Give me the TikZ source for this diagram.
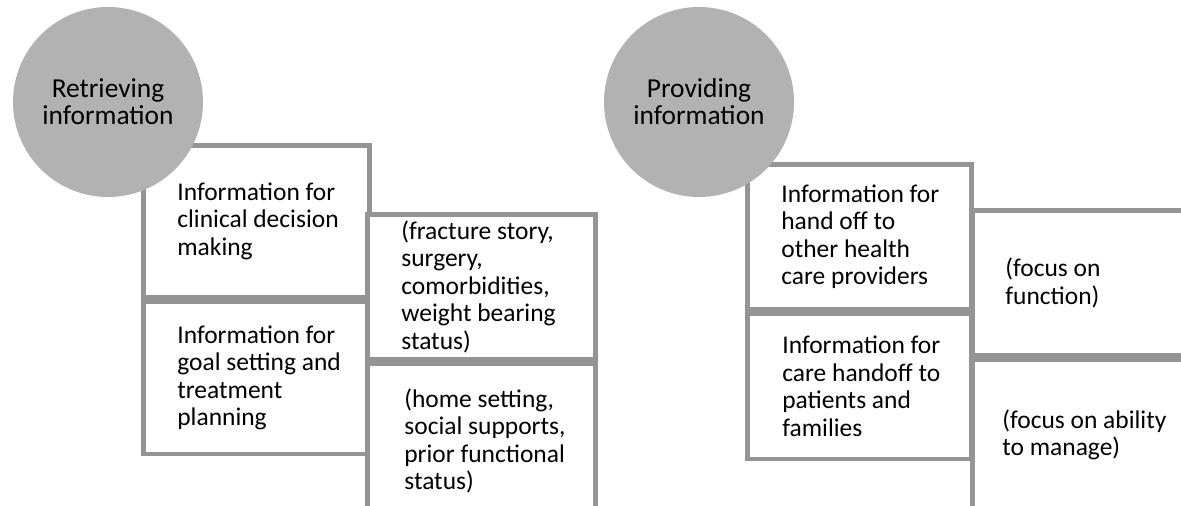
\documentclass[tikz,border=0pt]{standalone}
\usepackage{fontspec}
\setmainfont{Carlito}
\usepackage{xcolor}
\usepackage{tikz}
\usetikzlibrary{positioning}
\definecolor{bordo}{gray}{0.58}
\definecolor{sfondo}{gray}{0.70}
\tikzset{
  cerchio/.style={circle,fill=sfondo,minimum size=3.8cm,inner sep=0pt,align=center,
    font=\fontsize{15.6pt}{15.4pt}\selectfont},
  riquadro/.style={draw=bordo,line width=0.09cm,fill=white,inner sep=0pt},
  testo/.style={align=left,inner sep=0pt,font=\fontsize{14.5pt}{15.65pt}\selectfont}
}

\begin{document}
\begin{tikzpicture}
\clip (0,0) rectangle (23.62,-10.10);
\fill[white] (0,0) rectangle (23.62,-10.10);

\node[riquadro,anchor=north west,minimum width=4.52cm,minimum height=3.04cm] (clinica) at (2.82,-2.86) {};
\node[riquadro,below=0cm of clinica,minimum width=4.52cm,minimum height=3.04cm] (obiettivi) {};
\node[riquadro,anchor=north west,minimum width=4.56cm,minimum height=2.90cm] (frattura) at (7.30,-4.24) {};
\node[riquadro,below=0cm of frattura,minimum width=4.56cm,minimum height=3.08cm] (casa) {};

\node[riquadro,anchor=north west,minimum width=4.48cm,minimum height=2.90cm] (consegna) at (14.90,-3.24) {};
\node[riquadro,below=0cm of consegna,minimum width=4.48cm,minimum height=2.90cm] (famiglie) {};
\node[riquadro,anchor=north west,minimum width=4.80cm,minimum height=2.90cm] (funzione) at (19.40,-4.16) {};
\node[riquadro,below=0cm of funzione,minimum width=4.80cm,minimum height=3.00cm] (gestione) {};

\node[testo,right=0.72cm of clinica.west] (tclinica) {Information for\\clinical decision\\making};
\node[testo,right=0.72cm of obiettivi.west] (tobiettivi) {Information for\\goal setting and\\treatment\\planning};
\node[testo,right=0.72cm of frattura.west] (tfrattura) {(fracture story,\\surgery,\\comorbidities,\\weight bearing\\status)};
\node[testo,right=0.78cm of casa.west] (tcasa) {(home setting,\\social supports,\\prior functional\\status)};
\node[testo,right=0.72cm of consegna.west] (tconsegna) {Information for\\hand off to\\other health\\care providers};
\node[testo,right=0.74cm of famiglie.west] (tfamiglie) {Information for\\care handoff to\\patients and\\families};
\node[testo,right=0.70cm of funzione.west] (tfunzione) {(focus on\\function)};
\node[testo,right=0.64cm of gestione.west] (tgestione) {(focus on ability\\to manage)};

\node[cerchio] (recupero) at (2.16,-2.04) {Retrieving\\information};
\node[cerchio] (fornitura) at (13.98,-2.04) {Providing\\information};
\end{tikzpicture}
\end{document}
